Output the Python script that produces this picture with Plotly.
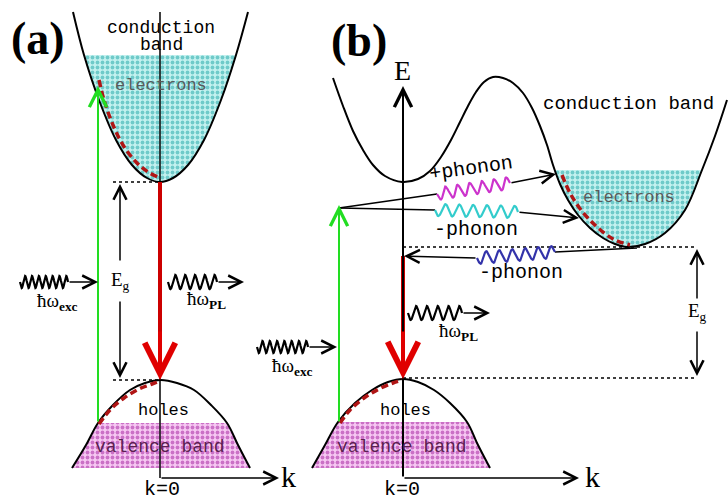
import numpy as np
import plotly.graph_objects as go

# ---------------- data (pixel coordinates: k -> x, E -> y downward) ------------
# panel (a)
CB_A_K = [73, 84, 99, 116, 132, 147, 160, 173, 188, 204, 221, 236, 248]
CB_A_E = [12, 55, 100, 140, 165, 178, 182, 178, 165, 140, 100, 55, 12]
VB_A_K = [72, 86, 98, 113, 130, 145, 161, 177, 194, 211, 227, 238, 250]
VB_A_E = [468, 445, 423, 405, 390, 383, 380, 383, 390, 405, 423, 445, 468]
ELEC_A_K = [84, 99, 116, 132, 147, 160, 173, 188, 204, 221, 236]
ELEC_A_E = [55, 100, 140, 165, 178, 182, 178, 165, 140, 100, 55]
HOLE_A_K = [98, 86, 72, 250, 238, 227]
HOLE_A_E = [423, 445, 468, 468, 445, 423]
RELAX_CB_A_K = [99, 104, 113, 123, 136, 148, 158]
RELAX_CB_A_E = [80, 100, 125, 145, 162, 172, 177]
RELAX_VB_A_K = [99, 110, 124, 139, 152, 160]
RELAX_VB_A_E = [424, 410, 398, 389, 384, 381]

# panel (b)
CB_B_K = [333, 343, 353, 363, 373, 385, 402, 418, 430, 441, 451, 460, 468, 476, 484, 493,
          503, 513, 523, 532, 540, 547, 553, 560, 568, 578, 590, 603, 615, 627,
          645, 665, 685, 702, 715, 727]
CB_B_E = [78, 106, 131, 150, 165, 176, 182, 179, 171, 157, 140, 122, 106, 92, 82, 77,
          78, 83, 93, 108, 126, 145, 165, 184, 200, 215, 228, 238, 244, 247,
          244, 233, 210, 170, 136, 100]
VB_B_K = [312, 325, 338, 355, 372, 388, 403, 418, 434, 450, 467, 478, 490]
VB_B_E = [468, 445, 422, 403, 390, 382, 379, 382, 390, 403, 422, 445, 468]
ELEC_B_K = [555, 560, 568, 578, 590, 603, 615, 627, 645, 665, 685, 702]
ELEC_B_E = [170, 184, 200, 215, 228, 238, 244, 247, 244, 233, 210, 170]
HOLE_B_K = [338, 325, 312, 490, 478, 467]
HOLE_B_E = [422, 445, 468, 468, 445, 422]
RELAX_CB_B_K = [562, 570, 581, 596, 613, 630]
RELAX_CB_B_E = [175, 193, 210, 226, 239, 245]
RELAX_VB_B_K = [340, 350, 364, 379, 393, 403]
RELAX_VB_B_E = [423, 410, 398, 389, 383, 380]

# photons / phonons: (x0, y0, x1, y1, periods, amplitude, colour)
WAVES = {
    "exc_a": (20, 282, 68, 282, 7, 6, "black"),
    "pl_a": (168, 282, 217, 282, 5, 7, "black"),
    "exc_b": (257, 347, 308, 347, 7, 6, "black"),
    "pl_b": (408, 313, 462, 313, 5, 7, "black"),
    "plus_phonon": (437, 194, 510, 183, 6, 6, "#cc33cc"),
    "minus_phonon": (435, 210, 518, 212, 6, 6, "#33cccc"),
    "blue_phonon": (555, 252, 477, 258, 6, 6, "#3333aa"),
}

BLACK = "black"
RED = "#e00000"
DARKRED = "#b01515"
GREEN = "#22dd22"
SERIF = "Liberation Serif"
MONO = "Liberation Mono"

fig = go.Figure()


def line(xs, ys, color=BLACK, width=2, dash="solid", shape="spline"):
    ln = dict(color=color, width=width, dash=dash, shape=shape)
    if shape == "spline":
        ln["smoothing"] = 1.0
    fig.add_trace(go.Scatter(x=xs, y=ys, mode="lines", hoverinfo="skip", line=ln))


def patch(xs, ys, fg, bg):
    fig.add_trace(go.Scatter(x=xs + [xs[0]], y=ys + [ys[0]], mode="lines", fill="toself",
                             hoverinfo="skip", line=dict(width=0, color=bg), fillcolor=bg,
                             fillpattern=dict(shape=".", fgcolor=fg, bgcolor=bg, size=5, solidity=0.45)))


def wave(key):
    x0, y0, x1, y1, n, amp, col = WAVES[key]
    t = np.linspace(0, 1, 24 * n + 1)
    dx, dy = x1 - x0, y1 - y0
    L = np.hypot(dx, dy)
    nx, ny = -dy / L, dx / L
    s = amp * np.sin(2 * np.pi * n * t)
    line(list(x0 + dx * t + nx * s), list(y0 + dy * t + ny * s), color=col, width=2.2, shape="linear")


arrows = []


def arrow(x0, y0, x1, y1, color=BLACK, width=1.5, head=5, size=1.7):
    arrows.append(dict(x=x1, y=y1, ax=x0, ay=y0, xref="x", yref="y", axref="x", ayref="y",
                       showarrow=True, arrowhead=head, arrowsize=size, arrowwidth=width,
                       arrowcolor=color, text="", standoff=0, startstandoff=0))


texts = []


def label(x, y, s, size=18, family=SERIF, color=BLACK, angle=0):
    texts.append(dict(x=x, y=y, xref="x", yref="y", text=s, showarrow=False,
                      font=dict(family=family, size=size, color=color), textangle=angle,
                      xanchor="center", yanchor="middle"))


RELAX_DASH = "7px,4px"

# ---------------- panel (a) ----------------
patch(ELEC_A_K, ELEC_A_E, "#1aa3a3", "#c4f1ef")
patch(HOLE_A_K, HOLE_A_E, "#a0189a", "#f6c8f2")
line(CB_A_K, CB_A_E)
line(VB_A_K, VB_A_E)
line([160, 160], [12, 478], width=1.5, shape="linear")
arrow(160, 478, 279, 478, width=1.5)
line(RELAX_CB_A_K, RELAX_CB_A_E, color=DARKRED, width=3.5, dash=RELAX_DASH)
line(RELAX_VB_A_K, RELAX_VB_A_E, color=DARKRED, width=3.5, dash=RELAX_DASH)
line([113, 160], [182, 182], width=1.5, dash="dot", shape="linear")
line([113, 160], [380, 380], width=1.5, dash="dot", shape="linear")
arrow(120, 262, 120, 184)
arrow(120, 300, 120, 378)
arrow(98, 423, 98, 86, color=GREEN, width=2)
line([160, 160], [182, 350], color="#cc0000", width=4, shape="linear")
arrow(160, 330, 160, 380, color=RED, width=4, head=5, size=1.5)
wave("exc_a")
arrow(68, 282, 98, 282)
wave("pl_a")
arrow(217, 282, 244, 282)

label(38, 38, "<b>(a)</b>", size=46)
label(161, 28, "conduction", size=18, family=MONO)
label(161, 45, "band", size=18, family=MONO)
label(161, 85, "electrons", size=17, family=MONO, color="#5a5a5a")
label(163, 410, "holes", size=17, family=MONO)
label(160, 447, "valence band", size=18, family=MONO, color="#5a2050")
label(120, 281, "E<sub>g</sub>", size=19)
label(57, 302, "ħω<sub><b>exc</b></sub>", size=19)
label(206, 300, "ħω<sub><b>PL</b></sub>", size=19)
label(162, 489, "k=0", size=20, family=MONO)
label(288, 476, "k", size=30)

# ---------------- panel (b) ----------------
patch(ELEC_B_K, ELEC_B_E, "#1aa3a3", "#c4f1ef")
patch(HOLE_B_K, HOLE_B_E, "#a0189a", "#f6c8f2")
line(CB_B_K, CB_B_E)
line(VB_B_K, VB_B_E)
arrow(403, 478, 403, 86, width=2)
arrow(403, 478, 579, 478, width=1.5)
line(RELAX_CB_B_K, RELAX_CB_B_E, color=DARKRED, width=3.5, dash=RELAX_DASH)
line(RELAX_VB_B_K, RELAX_VB_B_E, color=DARKRED, width=3.5, dash=RELAX_DASH)
line([403, 697], [247, 247], width=1.5, dash="dot", shape="linear")
line([403, 697], [378, 378], width=1.5, dash="dot", shape="linear")
arrow(697, 300, 697, 249)
arrow(697, 330, 697, 376)
arrow(339, 423, 339, 205, color=GREEN, width=2)
line([339, 437], [208, 194], width=1.5, shape="linear")
line([339, 435], [208, 210], width=1.5, shape="linear")
wave("plus_phonon")
arrow(510, 183, 556, 174)
wave("minus_phonon")
arrow(518, 212, 579, 218)
line([637, 555], [248, 252], width=1.5, shape="linear")
wave("blue_phonon")
arrow(477, 258, 404, 256)
line([403, 403], [256, 350], color="#cc0000", width=4, shape="linear")
arrow(403, 330, 403, 379, color=RED, width=4, head=5, size=1.5)
wave("exc_b")
arrow(308, 347, 337, 347)
wave("pl_b")
arrow(462, 313, 490, 313)

label(359, 40, "<b>(b)</b>", size=46)
label(402, 70, "E", size=28)
label(628, 104, "conduction band", size=19, family=MONO)
label(629, 197, "electrons", size=17, family=MONO, color="#5a5a5a")
label(471, 168, "+phonon", size=20, family=MONO, angle=-8)
label(476, 229, "-phonon", size=20, family=MONO)
label(521, 272, "-phonon", size=20, family=MONO)
label(697, 312, "E<sub>g</sub>", size=19)
label(292, 367, "ħω<sub><b>exc</b></sub>", size=19)
label(458, 332, "ħω<sub><b>PL</b></sub>", size=19)
label(405, 410, "holes", size=17, family=MONO)
label(402, 447, "valence band", size=18, family=MONO, color="#5a2050")
label(402, 489, "k=0", size=20, family=MONO)
label(592, 476, "k", size=30)

fig.update_layout(
    width=728, height=500, margin=dict(l=0, r=0, t=0, b=0),
    paper_bgcolor="white", plot_bgcolor="white", showlegend=False,
    xaxis=dict(range=[0, 728], visible=False, fixedrange=True),
    yaxis=dict(range=[500, 0], visible=False, fixedrange=True),
    annotations=arrows + texts,
)
fig.write_html("out.html", config={"displayModeBar": False},
               post_script="document.body.style.margin='0px';document.body.style.overflow='hidden';")
